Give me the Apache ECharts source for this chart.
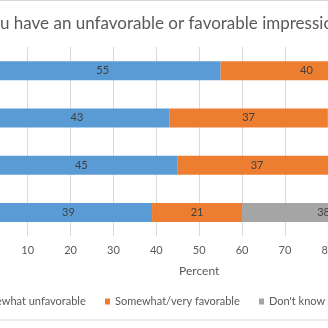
<!DOCTYPE html>
<html><head><meta charset="utf-8">
<script src="https://cdn.jsdelivr.net/npm/echarts@6/dist/echarts.min.js"></script>
<style>html,body{margin:0;padding:0;background:#fff;overflow:hidden;width:328px;height:328px}
#c{position:absolute;left:-100px;top:0;width:528px;height:328px}</style>
</head><body><div id="c"></div>
<script>
var categories = ['Item 1', 'Item 2', 'Item 3', 'Item 4'];
var unfavorable = [55, 43, 45, 39];
var favorable = [40, 37, 37, 21];
var dontKnow = [5, 20, 18, 38];
var seriesNames = ['Very/somewhat unfavorable', 'Somewhat/very favorable', "Don't know enough to say"];
var titleText = 'Do you have an unfavorable or favorable impression of the following?';

var FONT = 'Lato';
var OFF = 100; // container offset
var ctx = document.createElement('canvas').getContext('2d');
function tw(t, size) { ctx.font = size + 'px ' + FONT; return ctx.measureText(t).width; }

var TFS = 17;
var titleLeft = OFF - tw('Do yo', TFS) - 5;
var LEG_FS = 11, IW = 5;
var w1 = tw(seriesNames[0], LEG_FS), w2 = tw(seriesNames[1], LEG_FS);
var orangeIcon = 105, grayIcon = 259;
var itemGap = grayIcon - (orangeIcon + IW + 5 + w2);
var legendLeft = OFF + orangeIcon - (IW + 5 + w1 + itemGap);

var chart = echarts.init(document.getElementById('c'), null, {renderer: 'canvas'});
function mk(name, data, color) {
  return {
    name: name, type: 'bar', stack: 'all', data: data, barWidth: 19,
    itemStyle: {color: color},
    label: {show: true, position: 'inside', color: '#404040', fontSize: 11, fontFamily: FONT}
  };
}
chart.setOption({
  backgroundColor: '#fff',
  animation: false,
  title: {
    text: titleText, left: titleLeft, top: 10,
    textStyle: {color: '#595959', fontSize: TFS, fontWeight: 'normal', fontFamily: FONT}
  },
  legend: {
    left: legendLeft, top: 296, itemWidth: IW, itemHeight: 6, itemGap: itemGap,
    icon: 'rect', padding: 0,
    textStyle: {color: '#595959', fontSize: LEG_FS, fontFamily: FONT}
  },
  grid: {left: OFF - 15.2, right: 528 - (OFF + 413.6), top: 47, bottom: 92, containLabel: false},
  xAxis: {
    type: 'value', min: 0, max: 100, interval: 10,
    name: 'Percent', nameLocation: 'middle', nameGap: 29,
    nameTextStyle: {color: '#595959', fontSize: 12, fontFamily: FONT},
    axisLine: {show: false}, axisTick: {show: false},
    axisLabel: {color: '#595959', fontSize: 11, fontFamily: FONT, margin: 9},
    splitLine: {lineStyle: {color: '#d9d9d9', width: 1}}
  },
  yAxis: {
    type: 'category', data: categories, inverse: true,
    axisLine: {show: false}, axisTick: {show: false}, axisLabel: {show: false}
  },
  graphic: [
    {type: 'rect', shape: {x: 0.5, y: 0.5, width: 527, height: 319.5}, style: {fill: 'none', stroke: '#d9d9d9', lineWidth: 1}, silent: true, z: -1}
  ],
  series: [
    mk(seriesNames[0], unfavorable, '#5b9bd5'),
    mk(seriesNames[1], favorable, '#ed7d31'),
    mk(seriesNames[2], dontKnow, '#a5a5a5')
  ]
});
</script></body></html>
